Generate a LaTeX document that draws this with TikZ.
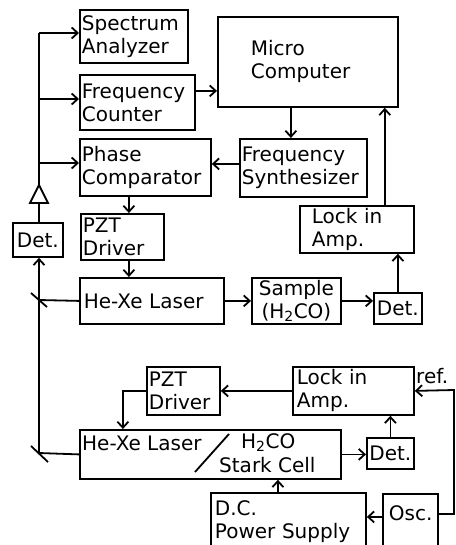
\documentclass[tikz,border=0pt]{standalone}
\usepackage{fontspec}
\setmainfont{DejaVu Sans}
\usetikzlibrary{arrows.meta,calc}
\tikzset{
  blk/.style={
    draw, line width=1.8pt, anchor=north west, align=left,
    inner xsep=2pt, inner ysep=1pt, font=\fontsize{20}{23}\selectfont
  },
  wire/.style={line width=1.8pt},
  arr/.style={wire, -{Straight Barb[length=6pt,width=11pt]}},
  mirror/.style={line width=1.8pt},
  lbl/.style={font=\fontsize{20}{23}\selectfont, inner sep=0pt},
}

\begin{document}
\begin{tikzpicture}[x=1pt, y=-1pt]
  \useasboundingbox (0,0) rectangle (455,545);
  \clip (0,0) rectangle (455,545);

  % Upper system
  \node[blk, text width=104pt, minimum height=53pt] (spec) at (79,9) {Spectrum\\Analyzer};
  \node[blk, text width=111pt, minimum height=55pt] (freq) at (79,74) {Frequency\\Counter};
  \node[blk, text width=127pt, minimum height=57pt] (phase) at (79,138) {Phase\\Comparator};
  \node[blk, inner xsep=33pt, text width=114pt, minimum height=90pt] (micro) at (217,16) {Micro\\Computer};
  \node[blk, text width=123pt, minimum height=58pt] (synth) at (239,138) {Frequency\\Synthesizer};
  \node[blk, text width=79pt, minimum height=46pt] (pzt1) at (80,213) {PZT\\Driver};
  \node[blk, inner xsep=12pt, text width=90pt, minimum height=47pt] (lock1) at (299,205) {Lock in\\Amp.};
  \node[blk, align=center, text width=46pt, minimum height=34pt] (detL) at (12,222) {Det.};
  \node[blk, inner xsep=4pt, text width=136pt, minimum height=46pt] (laser1) at (79,277) {He-Xe Laser};
  \node[blk, align=center, inner xsep=0pt, text width=89pt, minimum height=46pt] (sample) at (251,277) {Sample\\(H\textsubscript{2}CO)};
  \node[blk, align=center, inner xsep=0pt, text width=48pt, minimum height=31pt] (detR) at (373,292) {Det.};

  % Lower (reference) system
  \node[blk, text width=69pt, minimum height=48pt] (pzt2) at (146,366) {PZT\\Driver};
  \node[blk, inner xsep=4pt, text width=113pt, minimum height=48pt] (lock2) at (292,366) {Lock in\\Amp.};
  \node[blk, minimum width=261pt, minimum height=49pt] (stark) at (79,429) {};
  \node[lbl, anchor=base west] (starkA) at (82,450) {He-Xe Laser};
  \node[lbl, anchor=base west] (starkB) at (241,448) {H\textsubscript{2}CO};
  \node[lbl, anchor=base west] (starkC) at (219,472) {Stark Cell};
  \draw[wire] (195,472) -- (229,434);
  \node[blk, align=center, inner xsep=0pt, text width=47pt, minimum height=31pt] (det2) at (366,437) {Det.};
  \node[blk, inner xsep=4pt, text width=147pt, minimum height=58pt] (dc) at (210,492) {D.C.\\Power Supply};
  \node[blk, inner xsep=6pt, text width=43pt, text height=26pt, text depth=30pt] (osc) at (382,493) {Osc.};
  \node[lbl, anchor=base west] (reflbl) at (416,383) {ref.};

  % Mirrors and amplifier
  \coordinate (m1) at (39,300);
  \coordinate (m2) at (39,453);
  \draw[mirror] ($(m1)+(-8,-7)$) -- ($(m1)+(8,7)$);
  \draw[mirror] ($(m2)+(-8,-7)$) -- ($(m2)+(9,9)$);
  \coordinate (ampTip) at (39,185);
  \coordinate (ampBase) at (39,203);
  \draw[wire, line join=miter] ($(ampBase)+(-9,0)$) -- (ampTip) -- ($(ampBase)+(9,0)$) -- cycle;

  % Beams
  \draw[wire] (laser1.west) -- (m1);
  \draw[wire] (stark.west) -- (m2);
  \draw[arr] (m2) -- (m2 |- detL.south);
  \draw[wire] (ampBase) -- (ampBase |- detL.north);

  % Branches to the counters
  \coordinate (b1) at (39,33);
  \coordinate (b2) at (39,99);
  \coordinate (b3) at (39,163);
  \draw[wire] (ampTip) -- (b1);
  \draw[arr] (b1) -- (b1 -| spec.west);
  \draw[arr] (b2) -- (b2 -| freq.west);
  \draw[arr] (b3) -- (b3 -| phase.west);

  % Upper loop
  \draw[arr] ([xshift=-16.5pt]phase.south) -- ([xshift=6.5pt]pzt1.north);
  \coordinate (p1) at ([xshift=6.5pt]pzt1.south);
  \draw[arr] (p1) -- (p1 |- laser1.north);
  \coordinate (f1) at ([yshift=11.5pt]freq.east);
  \draw[arr] (f1) -- (f1 -| micro.west);
  \coordinate (s1) at ([xshift=-12.5pt]synth.north);
  \draw[arr] (s1 |- micro.south) -- (s1);
  \coordinate (s2) at ([yshift=4pt]synth.west);
  \draw[arr] (s2) -- (s2 -| phase.east);
  \coordinate (l1) at ([xshift=-30pt]lock1.north east);
  \draw[arr] (l1) -- (l1 |- micro.south);
  \draw[arr] (detR.north) -- (detR.north |- lock1.south);
  \draw[arr] (laser1.east) -- (sample.west);
  \draw[arr] (sample.east) -- (sample.east -| detR.west);

  % Lower loop
  \draw[arr] (lock2.west) -- (pzt2.east);
  \draw[arr] (pzt2.west) -| ([xshift=-87.5pt]stark.north);
  \draw[arr] (stark.east) -- (stark.east -| det2.west);
  \draw[arr] (det2.north) -- (det2.north |- lock2.south);
  \coordinate (d1) at ([xshift=-10.5pt]dc.north);
  \draw[arr] (d1) -- (d1 |- stark.south);
  \coordinate (o1) at ([yshift=6pt]osc.west);
  \draw[arr] (o1) -- (o1 -| dc.east);
  \coordinate (o2) at ([yshift=9pt]osc.east);
  \coordinate (refin) at (454,390);
  \draw[arr] (o2) -| (refin) -- (lock2.east);
\end{tikzpicture}
\end{document}
